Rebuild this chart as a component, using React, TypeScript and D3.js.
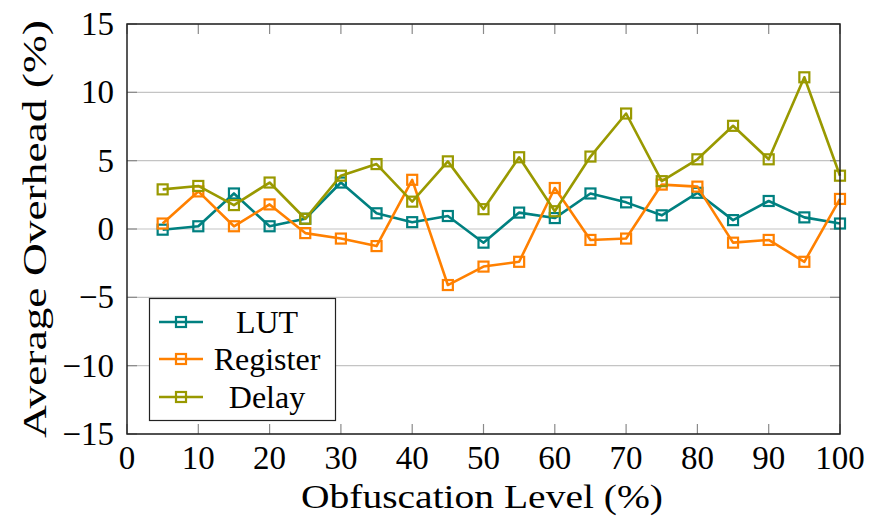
import React from "react";
import * as d3 from "d3";

// Obfuscation levels (x) and the three overhead series (%).
const levels = [5, 10, 15, 20, 25, 30, 35, 40, 45, 50, 55, 60, 65, 70, 75, 80, 85, 90, 95, 100];
const lutValues = [-0.05, 0.2, 2.6, 0.2, 0.75, 3.4, 1.15, 0.5, 0.95, -1.0, 1.2, 0.8, 2.6, 1.95, 1.0, 2.65, 0.65, 2.05, 0.85, 0.4];
const registerValues = [0.4, 2.75, 0.2, 1.8, -0.3, -0.7, -1.25, 3.6, -4.1, -2.75, -2.4, 3.0, -0.8, -0.7, 3.25, 3.1, -1.0, -0.8, -2.4, 2.2];
const delayValues = [2.9, 3.15, 1.75, 3.4, 0.75, 3.9, 4.75, 2.0, 4.95, 1.45, 5.25, 1.3, 5.3, 8.45, 3.5, 5.1, 7.55, 5.1, 11.1, 3.9];

const seriesNames = ["LUT", "Register", "Delay"];
const seriesColors = ["#008080", "#ff8000", "#999900"];
const xTicks = [0, 10, 20, 30, 40, 50, 60, 70, 80, 90, 100];
const yTicks = [-15, -10, -5, 0, 5, 10, 15];

const FONT = '"Liberation Serif", "Times New Roman", "Noto Serif", "DejaVu Serif", serif';

const width = 872;
const height = 524;
const left = 127;
const right = 840;
const top = 24;
const bottom = 434;
const tickLen = 10;

const x = d3.scaleLinear().domain([0, 100]).range([left, right]);
const y = d3.scaleLinear().domain([-15, 15]).range([bottom, top]);

const line = d3.line<number>()
  .x((_, i) => x(levels[i]))
  .y(d => y(d));

const Marker = ({ cx, cy, color }: { cx: number; cy: number; color: string }) => (
  <rect x={cx - 5} y={cy - 5} width={10} height={10} fill="none" stroke={color} strokeWidth={2.2} />
);

const App = () => {
  const allValues = [lutValues, registerValues, delayValues];
  const rowY = [322, 359, 397];
  const textStyle = (size: number) => ({ fontFamily: FONT, fontSize: `${size}px` });

  return (
    <svg width={width} height={height} style={{ position: "absolute", left: 0, top: 0 }}>
      {/* Horizontal grid */}
      {yTicks.map(t => (
        <line key={`g${t}`} x1={left} x2={right} y1={y(t)} y2={y(t)} stroke="#c4c4c4" strokeWidth={1.2} />
      ))}

      {/* Inward ticks on all four sides */}
      <g stroke="#8a8a8a" strokeWidth={1.2}>
        {xTicks.map(t => (
          <React.Fragment key={`xt${t}`}>
            <line x1={x(t)} x2={x(t)} y1={bottom} y2={bottom - tickLen} />
            <line x1={x(t)} x2={x(t)} y1={top} y2={top + tickLen} />
          </React.Fragment>
        ))}
        {yTicks.map(t => (
          <React.Fragment key={`yt${t}`}>
            <line x1={left} x2={left + tickLen} y1={y(t)} y2={y(t)} />
            <line x1={right} x2={right - tickLen} y1={y(t)} y2={y(t)} />
          </React.Fragment>
        ))}
      </g>

      {/* Series */}
      {allValues.map((vals, s) => (
        <g key={seriesNames[s]}>
          <path d={line(vals) || ""} fill="none" stroke={seriesColors[s]} strokeWidth={2.6} strokeLinejoin="round" />
          {vals.map((v, i) => (
            <Marker key={i} cx={x(levels[i])} cy={y(v)} color={seriesColors[s]} />
          ))}
        </g>
      ))}

      {/* Axis frame */}
      <rect x={left} y={top} width={right - left} height={bottom - top} fill="none" stroke="#222" strokeWidth={1.5} />

      {/* Tick labels */}
      {xTicks.map(t => (
        <text key={`xl${t}`} x={x(t)} y={469} textAnchor="middle" style={textStyle(33)}>
          {d3.format("d")(t)}
        </text>
      ))}
      {yTicks.map(t => (
        <text key={`yl${t}`} x={114} y={y(t) + 11} textAnchor="end" style={textStyle(33)}>
          {t < 0 ? "\u2212" + Math.abs(t) : String(t)}
        </text>
      ))}

      {/* Axis titles */}
      <text x={482} y={508} textAnchor="middle" style={textStyle(34)} textLength={362} lengthAdjust="spacingAndGlyphs">
        Obfuscation Level (%)
      </text>
      <text transform="translate(46, 229) rotate(-90)" textAnchor="middle" style={textStyle(34)} textLength={418} lengthAdjust="spacingAndGlyphs">
        Average Overhead (%)
      </text>

      {/* Legend */}
      <rect x={149.5} y={298.5} width={186} height={122} fill="#fff" stroke="#222" strokeWidth={1.2} />
      {seriesNames.map((name, i) => (
        <g key={`lg${name}`}>
          <line x1={159} x2={203} y1={rowY[i]} y2={rowY[i]} stroke={seriesColors[i]} strokeWidth={2.6} />
          <Marker cx={181} cy={rowY[i]} color={seriesColors[i]} />
          <text x={267} y={rowY[i] + 11} textAnchor="middle" style={textStyle(32)}>
            {name}
          </text>
        </g>
      ))}
    </svg>
  );
};

export default App;
